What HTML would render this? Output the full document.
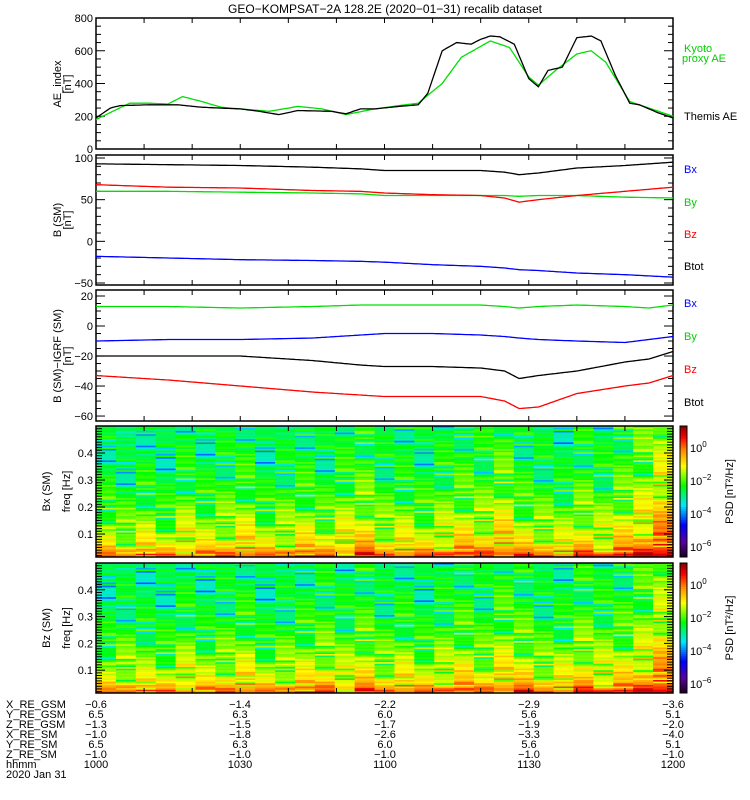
<!DOCTYPE html>
<html><head><meta charset="utf-8">
<style>
body{margin:0;background:#fff;}
svg{display:block;font-family:"Liberation Sans",sans-serif;}
text{font-size:11px;}
</style></head>
<body>
<svg id="chart" width="750" height="800" viewBox="0 0 750 800" xmlns="http://www.w3.org/2000/svg">
<text x="385" y="13" text-anchor="middle" style="font-size:12px">GEO−KOMPSAT−2A 128.2E (2020−01−31) recalib dataset</text>
</svg>
<script>
// ---------- data ----------
const aeTimes = [0,3,5,11,17,22,30,34,38,42,49,52,55,58,63,67,69,72,75,78,80,82,84,87,90,92,94,97,100,103,105,108,111,113,117,120];
const aeThemis = [190,250,265,270,270,255,245,230,210,235,230,215,245,245,260,270,340,600,650,640,670,690,685,640,430,380,480,500,680,690,660,450,280,270,220,190];
const kyotoTimes = [0,7,11,15,18,22,26,30,36,42,47,52,57,63,67,72,76,82,86,90,92,96,100,103,106,111,115,120];
const kyotoAE = [180,280,280,275,320,290,255,245,230,260,245,210,240,265,280,400,560,660,620,440,390,490,580,600,530,290,250,200];

const bTimes = [0,15,30,45,55,60,70,80,85,88,92,100,110,120];
const bBtot = [93,92,91,89,87,85,85,85,83,80,82,88,91,95];
const bBz = [68,65,64,61,60,58,56,55,52,47,50,55,60,65];
const bBy = [60,60,59,58,57,55,55,55,55,54,55,55,53,52];
const bBx = [-18,-20,-22,-23,-24,-25,-28,-30,-32,-34,-35,-38,-40,-43];

const dTimes = [0,15,30,45,55,60,70,80,85,88,92,100,110,115,120];
const dBx = [13,13,12,13,14,14,14,14,13,12,13,14,13,12,14];
const dBy = [-10,-9,-9,-8,-6,-5,-5,-6,-7,-8,-9,-10,-11,-9,-7];
const dBtot = [-20,-20,-20,-23,-26,-27,-27,-28,-30,-35,-33,-30,-24,-22,-17];
const dBz = [-33,-36,-40,-44,-46,-47,-47,-47,-50,-55,-54,-45,-40,-38,-33];

// spectrogram data
const specColsBx = [0.02,0.0,0.03,0.0,0.05,0.02,0.04,0.06,0.01,0.03,0.05,0.02,0.06,0.08,0.03,0.04,0.02,0.05,0.07,0.06,0.1,0.04,0.03,0.02,0.06,0.04,0.08,0.12,0.18];
const specColsBz = [0.0,0.02,0.01,0.0,0.04,0.01,0.03,0.05,0.0,0.02,0.04,0.05,0.03,0.06,0.02,0.04,0.01,0.04,0.06,0.03,0.08,0.06,0.02,0.03,0.07,0.05,0.06,0.1,0.16];
const specPattern = [0.02,-0.05,0.06,-0.02,0.0,0.09,-0.08,0.03,-0.04,0.05,-0.12,0.01,0.07,-0.03,0.04,-0.06,0.0,0.08,-0.01,-0.09,0.03,0.05,-0.04,0.02,-0.15,0.06,-0.02,0.04,0.01,-0.07,0.09,-0.03,0.0,0.05,-0.05,0.02,-0.18];
const freqMin = 0.0148, freqMax = 0.5;

const xTickLabels = ["1000","1030","1100","1130","1200"];
const ephemNames = ["X_RE_GSM","Y_RE_GSM","Z_RE_GSM","X_RE_SM","Y_RE_SM","Z_RE_SM","hhmm"];
const ephemValues = [
 ["−0.6","−1.4","−2.2","−2.9","−3.6"],
 ["6.5","6.3","6.0","5.6","5.1"],
 ["−1.3","−1.5","−1.7","−1.9","−2.0"],
 ["−1.0","−1.8","−2.6","−3.3","−4.0"],
 ["6.5","6.3","6.0","5.6","5.1"],
 ["−1.0","−1.0","−1.0","−1.0","−1.0"],
 xTickLabels
];

// ---------- helpers ----------
const svg = document.getElementById('chart');
const NS = 'http://www.w3.org/2000/svg';
const X0 = 96, X1 = 673;
function xs(t){ return X0 + (t/120)*(X1-X0); }
function mk(tag, attrs, parent){
  const e = document.createElementNS(NS, tag);
  for (const k in attrs) e.setAttribute(k, attrs[k]);
  (parent||svg).appendChild(e);
  return e;
}
function txt(x,y,s,attrs,name){
  const e = mk('text', Object.assign({x:x,y:y}, attrs||{}));
  e.textContent = s;
  
  
  return e;
}
function interp(times, vals, t){
  for (let i=0;i<times.length-1;i++){
    if (t<=times[i+1]){ const f=(t-times[i])/(times[i+1]-times[i]); return vals[i]+f*(vals[i+1]-vals[i]); }
  }
  return vals[vals.length-1];
}
function line(times, vals, ys, color, name, step){
  let pts=[];
  for (let t=0;t<=120.001;t+=step){ pts.push(xs(t).toFixed(1)+','+ys(interp(times,vals,t)).toFixed(1)); }
  const p = mk('polyline',{points:pts.join(' '),fill:'none',stroke:color,'stroke-width':1.3});
  
  
}
function frame(top, bottom, name){
  const r = mk('rect',{x:X0,y:top,width:X1-X0,height:bottom-top,fill:'none',stroke:'#000','stroke-width':1.5});
  
  
  for (let m=10;m<120;m+=10){
    const x=xs(m);
    mk('line',{x1:x,y1:bottom,x2:x,y2:bottom-5,stroke:'#000'});
    mk('line',{x1:x,y1:top,x2:x,y2:top+5,stroke:'#000'});
  }
}
function yticks(top,bottom,ys,vmin,vmax,major,minor,labels){
  for (let v=Math.ceil(vmin/minor)*minor; v<=vmax; v+=minor){
    const y=ys(v); const isMaj = Math.abs(v/major-Math.round(v/major))<1e-6;
    const L = isMaj?9:5;
    mk('line',{x1:X0,y1:y,x2:X0+L,y2:y,stroke:'#000'});
    mk('line',{x1:X1,y1:y,x2:X1-L,y2:y,stroke:'#000'});
    if (isMaj && labels) txt(X0-3,y+4,String(v).replace('-','−'),{'text-anchor':'end'},'y-tick-label');
  }
}
function ylabel(x,y,l1,l2,name){
  const g = mk('text',{transform:`translate(${x},${y}) rotate(-90)`,'text-anchor':'middle'});
  
  
  const a = mk('tspan',{x:0,y:0},g); a.textContent=l1;
  if (l2){ const b = mk('tspan',{x:0,y:10},g); b.textContent=l2; }
}

// ---------- panel 1: AE ----------
{
  const top=18,bottom=149,ys=v=>bottom-(v/800)*(bottom-top);
  frame(top,bottom,'ae-panel-frame');
  yticks(top,bottom,ys,0,800,200,50,true);
  line(kyotoTimes,kyotoAE,ys,'#00e000','kyoto-ae-line',0.5);
  line(aeTimes,aeThemis,ys,'#000','themis-ae-line',0.5);
  ylabel(61,84,'AE_index','[nT]','ae-y-axis-title');
  txt(684,52,'Kyoto',{fill:'#00d000'},'legend-kyoto');
  txt(682,62,'proxy AE',{fill:'#00d000'},'legend-kyoto-2');
  txt(684,120,'Themis AE',{},'legend-themis');
}
// ---------- panel 2: B SM ----------
{
  const top=155,bottom=285,vmin=-52.4,vmax=103.6,ys=v=>bottom-(v-vmin)/(vmax-vmin)*(bottom-top);
  frame(top,bottom,'b-sm-panel-frame');
  yticks(top,bottom,ys,vmin,vmax,50,10,true);
  line(bTimes,bBx,ys,'#0000ff','b-sm-bx-line',0.5);
  line(bTimes,bBy,ys,'#00e000','b-sm-by-line',0.5);
  line(bTimes,bBz,ys,'#ff0000','b-sm-bz-line',0.5);
  line(bTimes,bBtot,ys,'#000','b-sm-btot-line',0.5);
  ylabel(61,220,'B (SM)','[nT]','b-sm-y-axis-title');
  txt(684,173,'Bx',{fill:'#0000ff'},'legend-bx');
  txt(684,206,'By',{fill:'#00d000'},'legend-by');
  txt(684,238,'Bz',{fill:'#ff0000'},'legend-bz');
  txt(684,270,'Btot',{},'legend-btot');
}
// ---------- panel 3: B - IGRF ----------
{
  const top=290,bottom=421,vmin=-63.3,vmax=24,ys=v=>bottom-(v-vmin)/(vmax-vmin)*(bottom-top);
  frame(top,bottom,'b-igrf-panel-frame');
  yticks(top,bottom,ys,vmin,vmax,20,5,true);
  line(dTimes,dBx,ys,'#00e000','igrf-bx-line',0.5);
  line(dTimes,dBy,ys,'#0000ff','igrf-by-line',0.5);
  line(dTimes,dBtot,ys,'#000','igrf-btot-line',0.5);
  line(dTimes,dBz,ys,'#ff0000','igrf-bz-line',0.5);
  ylabel(61,356,'B (SM)−IGRF (SM)','[nT]','b-igrf-y-axis-title');
  txt(684,307,'Bx',{fill:'#0000ff'},'legend-igrf-bx');
  txt(684,340,'By',{fill:'#00d000'},'legend-igrf-by');
  txt(684,373,'Bz',{fill:'#ff0000'},'legend-igrf-bz');
  txt(684,406,'Btot',{},'legend-igrf-btot');
}
// ---------- spectrograms ----------
function jet(v){
  v=Math.max(0,Math.min(1,v));
  const stops=[[0,[20,0,20]],[0.12,[90,0,160]],[0.25,[0,0,255]],[0.4,[0,230,255]],[0.55,[0,255,0]],[0.7,[255,255,0]],[0.82,[255,140,0]],[0.92,[255,0,0]],[1,[140,0,0]]];
  for(let i=0;i<stops.length-1;i++){
    if(v<=stops[i+1][0]){const f=(v-stops[i][0])/(stops[i+1][0]-stops[i][0]);const a=stops[i][1],b=stops[i+1][1];
      return `rgb(${Math.round(a[0]+f*(b[0]-a[0]))},${Math.round(a[1]+f*(b[1]-a[1]))},${Math.round(a[2]+f*(b[2]-a[2]))})`;}
  }
}
function spectro(top,bottom,cols,name,lab){
  const g = mk('g',{});
  
  
  const nRows=80, rh=(bottom-top)/nRows;
  const cw=(X1-X0)/cols.length;
  for(let c=0;c<cols.length;c++){
    for(let r=0;r<nRows;r++){
      const fr=r/nRows;
      let v=0.47+0.26*Math.pow(fr,2.2)+(fr>0.9?0.12*(fr-0.9)/0.1:0)+cols[c]+specPattern[(r*7+c*13)%specPattern.length];
      mk('rect',{x:(X0+c*cw).toFixed(2),y:(top+r*rh).toFixed(2),width:(cw+0.5).toFixed(2),height:(rh+0.3).toFixed(2),fill:jet(v)},g);
    }
  }
  frame(top,bottom,name+'-frame');
  const ys=f=>bottom-(f-freqMin)/(freqMax-freqMin)*(bottom-top);
  for(let f=0.02;f<0.5;f+=0.01){const y=ys(f);const maj=Math.abs(f*10-Math.round(f*10))<1e-6;
    mk('line',{x1:X0,y1:y,x2:X0+(maj?9:6),y2:y,stroke:'#000'});mk('line',{x1:X1,y1:y,x2:X1-(maj?9:6),y2:y,stroke:'#000'});}
  [0.1,0.2,0.3,0.4].forEach(f=>txt(X0-3,ys(f)+4,String(f),{'text-anchor':'end'},'freq-tick-label'));
  ylabel(50,(top+bottom)/2,lab,'',name+'-label');
  ylabel(70,(top+bottom)/2,'freq [Hz]','',name+'-freq-label');
  const cb = mk('g',{});
  
  
  const n=60,h=(bottom-top)/n;
  for(let i=0;i<n;i++) mk('rect',{x:680,y:top+i*h,width:7,height:h+0.4,fill:jet(1-i/n)},cb);
  mk('rect',{x:680,y:top,width:7,height:bottom-top,fill:'none',stroke:'#000'},cb);
  const lbl=[["0",22],["−2",55],["−4",88],["−6",121]];
  lbl.forEach(l=>{const t=txt(690,top+l[1]+4,'10',{},'colorbar-tick');const s=mk('tspan',{dy:-5,style:'font-size:8px'},t);s.textContent=l[0];});
  const p=mk('text',{transform:`translate(${733},${(top+bottom)/2}) rotate(-90)`,'text-anchor':'middle'});
  
  
  p.textContent='PSD [nT²/Hz]';
}
spectro(426,557,specColsBx,'bx-spectrogram','Bx (SM)');
spectro(563,693,specColsBz,'bz-spectrogram','Bz (SM)');

// ---------- ephemeris ----------
const rowY=[708,718,728,738,748,758,768];
const colX=[96,240,385,529,673];
ephemNames.forEach((n,i)=>{
  txt(6,rowY[i],n,{},'ephem-name');
  ephemValues[i].forEach((v,j)=>txt(colX[j],rowY[i],v,{'text-anchor':'middle'},'ephem-value'));
});
txt(6,778,'2020 Jan 31',{},'date-label');
</script>
</body></html>
